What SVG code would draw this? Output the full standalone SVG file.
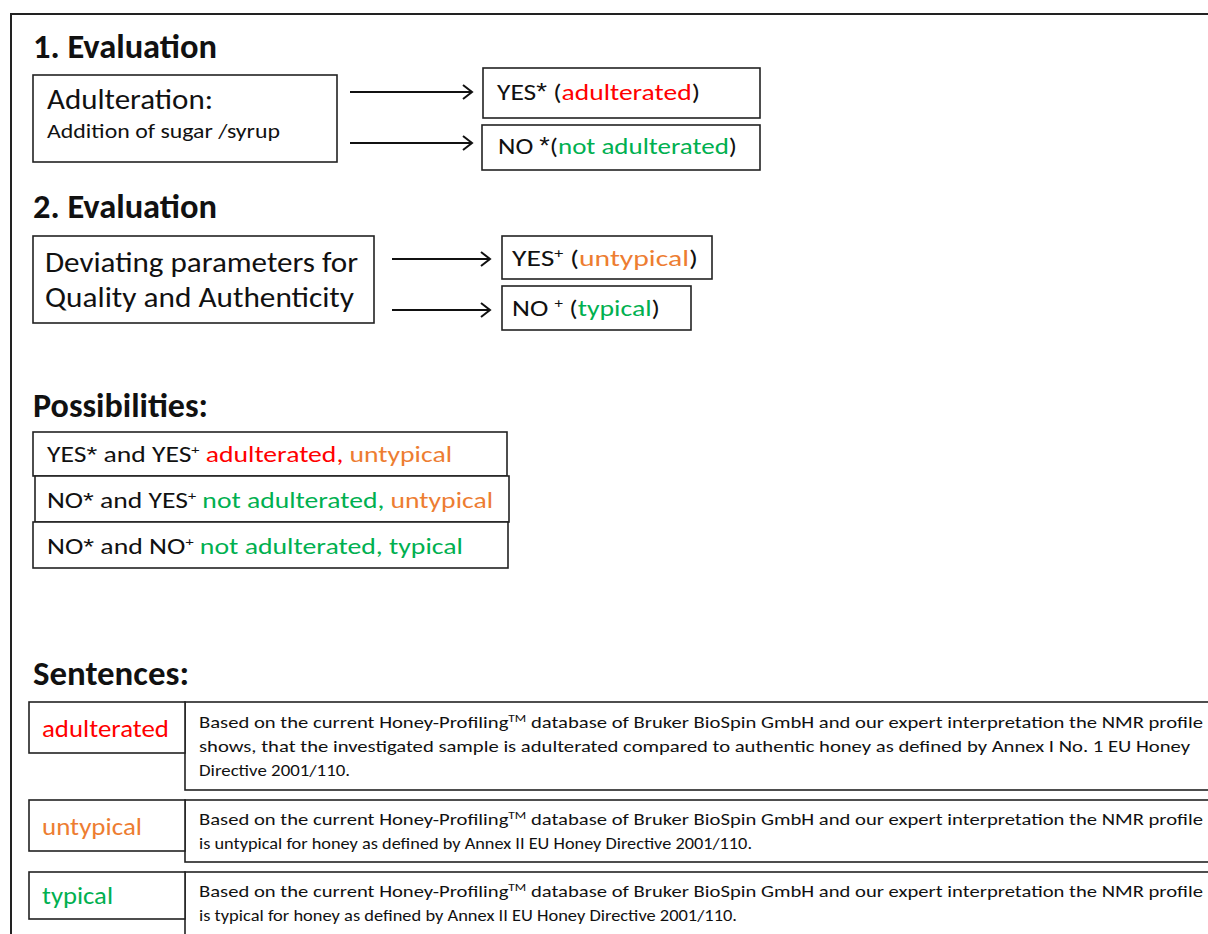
<svg xmlns="http://www.w3.org/2000/svg" width="1208" height="934" viewBox="0 0 1208 934">
<style>
text{font-family:Carlito,Lato,"Liberation Sans",sans-serif;fill:#111}
.h{font-weight:bold;font-size:34px}
.b{fill:#fff;stroke:#222;stroke-width:1.6}
.s{font-size:17px}
.r{fill:#ff0000}.o{fill:#ed7d31}.g{fill:#00b050}
.st{font-family:"Liberation Sans",sans-serif}
.a{stroke:#111;stroke-width:2;fill:none;marker-end:url(#ah)}
</style>
<defs>
<marker id="ah" markerWidth="12" markerHeight="16" refX="10" refY="8" orient="auto" markerUnits="userSpaceOnUse">
<path d="M1,1 L10,8 L1,15" fill="none" stroke="#111" stroke-width="2"/>
</marker>
</defs>
<rect width="1208" height="934" fill="#fff"/>
<path d="M11,934 V14 H1208" fill="none" stroke="#222" stroke-width="2"/>

<g id="headings">
<text class="h" x="33" y="58" textLength="184" lengthAdjust="spacingAndGlyphs">1. Evaluation</text>
<text class="h" x="33" y="218" textLength="184" lengthAdjust="spacingAndGlyphs">2. Evaluation</text>
<text class="h" x="33" y="417" textLength="175" lengthAdjust="spacingAndGlyphs">Possibilities:</text>
<text class="h" x="33" y="685" textLength="156" lengthAdjust="spacingAndGlyphs">Sentences:</text>
</g>

<g id="adulteration">
<rect class="b" x="33" y="75" width="304" height="87"/>
<text x="47" y="109" font-size="28" textLength="166" lengthAdjust="spacingAndGlyphs">Adulteration:</text>
<text x="47" y="138" font-size="20" textLength="233" lengthAdjust="spacingAndGlyphs">Addition of sugar /syrup</text>
</g>
<g id="yes1">
<rect class="b" x="483" y="68" width="277" height="50"/>
<text x="497" y="100" font-size="23" textLength="203" lengthAdjust="spacingAndGlyphs">YES<tspan class="st">*</tspan> (<tspan class="r">adulterated</tspan>)</text>
</g>
<g id="no1">
<rect class="b" x="482" y="125" width="278" height="45"/>
<text x="498" y="154" font-size="23" textLength="239" lengthAdjust="spacingAndGlyphs">NO <tspan class="st">*</tspan>(<tspan class="g">not adulterated</tspan>)</text>
</g>

<g id="deviating">
<rect class="b" x="33" y="236" width="341" height="87"/>
<text x="45" y="272" font-size="28" textLength="313" lengthAdjust="spacingAndGlyphs">Deviating parameters for</text>
<text x="45" y="307" font-size="28" textLength="309" lengthAdjust="spacingAndGlyphs">Quality and Authenticity</text>
</g>
<g id="yes2">
<rect class="b" x="502" y="236" width="210" height="43"/>
<text x="512" y="266" font-size="23" textLength="186" lengthAdjust="spacingAndGlyphs">YES<tspan font-size="14" dy="-8">+</tspan><tspan dy="8"> (</tspan><tspan class="o">untypical</tspan>)</text>
</g>
<g id="no2">
<rect class="b" x="502" y="286" width="189" height="44"/>
<text x="512" y="316" font-size="23" textLength="148" lengthAdjust="spacingAndGlyphs">NO <tspan font-size="14" dy="-8">+</tspan><tspan dy="8"> (</tspan><tspan class="g">typical</tspan>)</text>
</g>

<g id="connectors">
<line class="a" x1="350" y1="92" x2="472" y2="92"/>
<line class="a" x1="350" y1="143" x2="472" y2="143"/>
<line class="a" x1="392" y1="259" x2="490" y2="259"/>
<line class="a" x1="392" y1="310" x2="490" y2="310"/>
</g>

<g id="possibility1">
<rect class="b" x="33" y="432" width="474" height="44"/>
<text x="47" y="462" font-size="22" textLength="405" lengthAdjust="spacingAndGlyphs">YES<tspan class="st">*</tspan> and YES<tspan font-size="13" dy="-8">+</tspan><tspan dy="8"> </tspan><tspan class="r">adulterated, </tspan><tspan class="o">untypical</tspan></text>
</g>
<g id="possibility2">
<rect class="b" x="35" y="476" width="474" height="46"/>
<text x="47" y="508" font-size="22" textLength="446" lengthAdjust="spacingAndGlyphs">NO<tspan class="st">*</tspan> and YES<tspan font-size="13" dy="-8">+</tspan><tspan dy="8"> </tspan><tspan class="g">not adulterated, </tspan><tspan class="o">untypical</tspan></text>
</g>
<g id="possibility3">
<rect class="b" x="33" y="522" width="475" height="46"/>
<text x="47" y="554" font-size="22" textLength="416" lengthAdjust="spacingAndGlyphs">NO<tspan class="st">*</tspan> and NO<tspan font-size="13" dy="-8">+</tspan><tspan dy="8"> </tspan><tspan class="g">not adulterated, typical</tspan></text>
</g>

<g id="sentence-adulterated">
<rect class="b" x="185" y="702" width="1100" height="88"/>
<rect class="b" x="29" y="702" width="156" height="51"/>
<text x="42" y="737" font-size="24" class="r" textLength="127" lengthAdjust="spacingAndGlyphs">adulterated</text>
<text class="s" x="199" y="728" textLength="1004" lengthAdjust="spacingAndGlyphs">Based on the current Honey-Profiling<tspan font-size="11" dy="-6">TM</tspan><tspan dy="6"> database of Bruker BioSpin GmbH and our expert interpretation the NMR profile</tspan></text>
<text class="s" x="199" y="752" textLength="991" lengthAdjust="spacingAndGlyphs">shows, that the investigated sample is adulterated compared to authentic honey as defined by Annex I No. 1 EU Honey</text>
<text class="s" x="199" y="776" textLength="151" lengthAdjust="spacingAndGlyphs">Directive 2001/110.</text>
</g>
<g id="sentence-untypical">
<rect class="b" x="185" y="800" width="1100" height="62"/>
<rect class="b" x="29" y="800" width="156" height="51"/>
<text x="42" y="835" font-size="24" class="o" textLength="100" lengthAdjust="spacingAndGlyphs">untypical</text>
<text class="s" x="199" y="825" textLength="1004" lengthAdjust="spacingAndGlyphs">Based on the current Honey-Profiling<tspan font-size="11" dy="-6">TM</tspan><tspan dy="6"> database of Bruker BioSpin GmbH and our expert interpretation the NMR profile</tspan></text>
<text class="s" x="199" y="849" textLength="553" lengthAdjust="spacingAndGlyphs">is untypical for honey as defined by Annex II EU Honey Directive 2001/110.</text>
</g>
<g id="sentence-typical">
<rect class="b" x="185" y="872" width="1100" height="80"/>
<rect class="b" x="29" y="872" width="156" height="47"/>
<text x="42" y="904" font-size="24" class="g" textLength="71" lengthAdjust="spacingAndGlyphs">typical</text>
<text class="s" x="199" y="897" textLength="1004" lengthAdjust="spacingAndGlyphs">Based on the current Honey-Profiling<tspan font-size="11" dy="-6">TM</tspan><tspan dy="6"> database of Bruker BioSpin GmbH and our expert interpretation the NMR profile</tspan></text>
<text class="s" x="199" y="921" textLength="538" lengthAdjust="spacingAndGlyphs">is typical for honey as defined by Annex II EU Honey Directive 2001/110.</text>
</g>
</svg>
